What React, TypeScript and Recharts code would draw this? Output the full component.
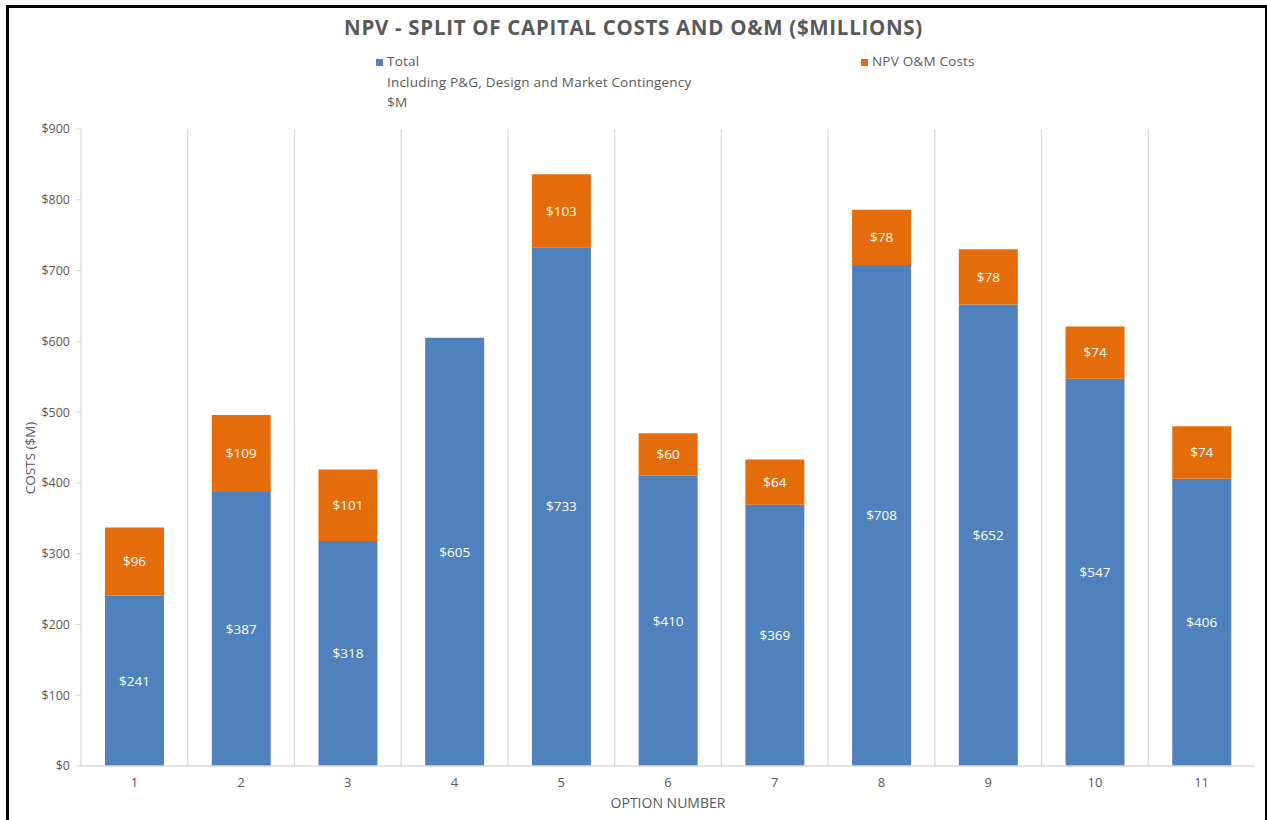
import React from 'react';
import { BarChart, Bar, XAxis, YAxis, CartesianGrid, LabelList } from 'recharts';

const options = ['1', '2', '3', '4', '5', '6', '7', '8', '9', '10', '11'];
const totalCapital = [241, 387, 318, 605, 733, 410, 369, 708, 652, 547, 406];
const npvOM = [96, 109, 101, 0, 103, 60, 64, 78, 78, 74, 74];
const yTicks = [0, 100, 200, 300, 400, 500, 600, 700, 800, 900];

const BLUE = '#4f81bd';
const ORANGE = '#e46c0a';
const GREY = '#595959';
const FONT = '"Open Sans", "Noto Sans", sans-serif';

const data = options.map((option, i) => ({
  option,
  total: totalCapital[i],
  om: npvOM[i],
}));

const money = (v: any) => (v ? `$${v}` : '');

export default function App() {
  return (
    <div style={{ position: 'absolute', left: 0, top: 0, width: 1267, height: 820, background: '#fff', fontFamily: FONT, overflow: 'hidden' }}>
      {/* frame */}
      <div style={{ position: 'absolute', left: 6, top: 5, width: 1256, height: 830, borderLeft: '3px solid #000', borderTop: '3px solid #000', borderRight: '3px solid #000' }} />

      <div style={{ position: 'absolute', left: 0, width: 1267, top: 13, textAlign: 'center', fontSize: 20.5, fontWeight: 700, color: GREY, letterSpacing: 0.7 }}>
        NPV - SPLIT OF CAPITAL COSTS AND O&amp;M ($MILLIONS)
      </div>

      {/* legend */}
      <div style={{ position: 'absolute', left: 376, top: 51, fontSize: 13.5, color: GREY, lineHeight: '20.5px', letterSpacing: 0.2 }}>
        <span style={{ display: 'inline-block', width: 7, height: 7, background: BLUE, marginRight: 4 }} />Total
        <div style={{ paddingLeft: 11 }}>Including P&amp;G, Design and Market Contingency</div>
        <div style={{ paddingLeft: 11 }}>$M</div>
      </div>
      <div style={{ position: 'absolute', left: 861, top: 51, fontSize: 13.5, color: GREY, lineHeight: '20.5px', letterSpacing: 0.2 }}>
        <span style={{ display: 'inline-block', width: 7, height: 7, background: ORANGE, marginRight: 4 }} />NPV O&amp;M Costs
      </div>

      {/* y axis title */}
      <div style={{ position: 'absolute', left: 30, top: 458, transform: 'translate(-50%, -50%) rotate(-90deg)', fontSize: 13.5, color: GREY, whiteSpace: 'nowrap' }}>
        COSTS ($M)
      </div>

      <div style={{ position: 'absolute', left: 0, top: 0 }}>
        <BarChart width={1267} height={820} data={data} margin={{ top: 129, right: 12, bottom: 12, left: 17 }}>
          <CartesianGrid
            horizontal={false}
            stroke="#d9d9d9"
            strokeWidth={1.3}
            verticalCoordinatesGenerator={({ offset }: any) =>
              options.map((_, i) => offset.left + (i * offset.width) / options.length)
            }
          />
          <XAxis
            dataKey="option"
            height={42}
            axisLine={{ stroke: '#d9d9d9', strokeWidth: 1.3 }}
            tickLine={false}
            tick={{ fill: GREY, fontSize: 13, fontFamily: FONT }}
            tickMargin={6}
            label={{ value: 'OPTION NUMBER', position: 'insideBottom', offset: 0, fill: GREY, fontSize: 14, fontFamily: FONT }}
          />
          <YAxis
            width={64}
            domain={[0, 900]}
            ticks={yTicks}
            interval={0}
            axisLine={false}
            tickLine={{ stroke: '#d9d9d9' }}
            tickSize={5}
            tickMargin={6}
            tick={{ fill: GREY, fontSize: 12.5, fontFamily: FONT }}
            tickFormatter={(v: number) => `$${v}`}
          />
          <Bar dataKey="total" stackId="a" fill={BLUE} barSize={59} isAnimationActive={false}>
            <LabelList dataKey="total" position="center" formatter={money} fill="#fff" fontSize={13.5} fontFamily={FONT} />
          </Bar>
          <Bar dataKey="om" stackId="a" fill={ORANGE} barSize={59} isAnimationActive={false}>
            <LabelList dataKey="om" position="center" formatter={money} fill="#fff" fontSize={13.5} fontFamily={FONT} />
          </Bar>
        </BarChart>
      </div>
    </div>
  );
}
